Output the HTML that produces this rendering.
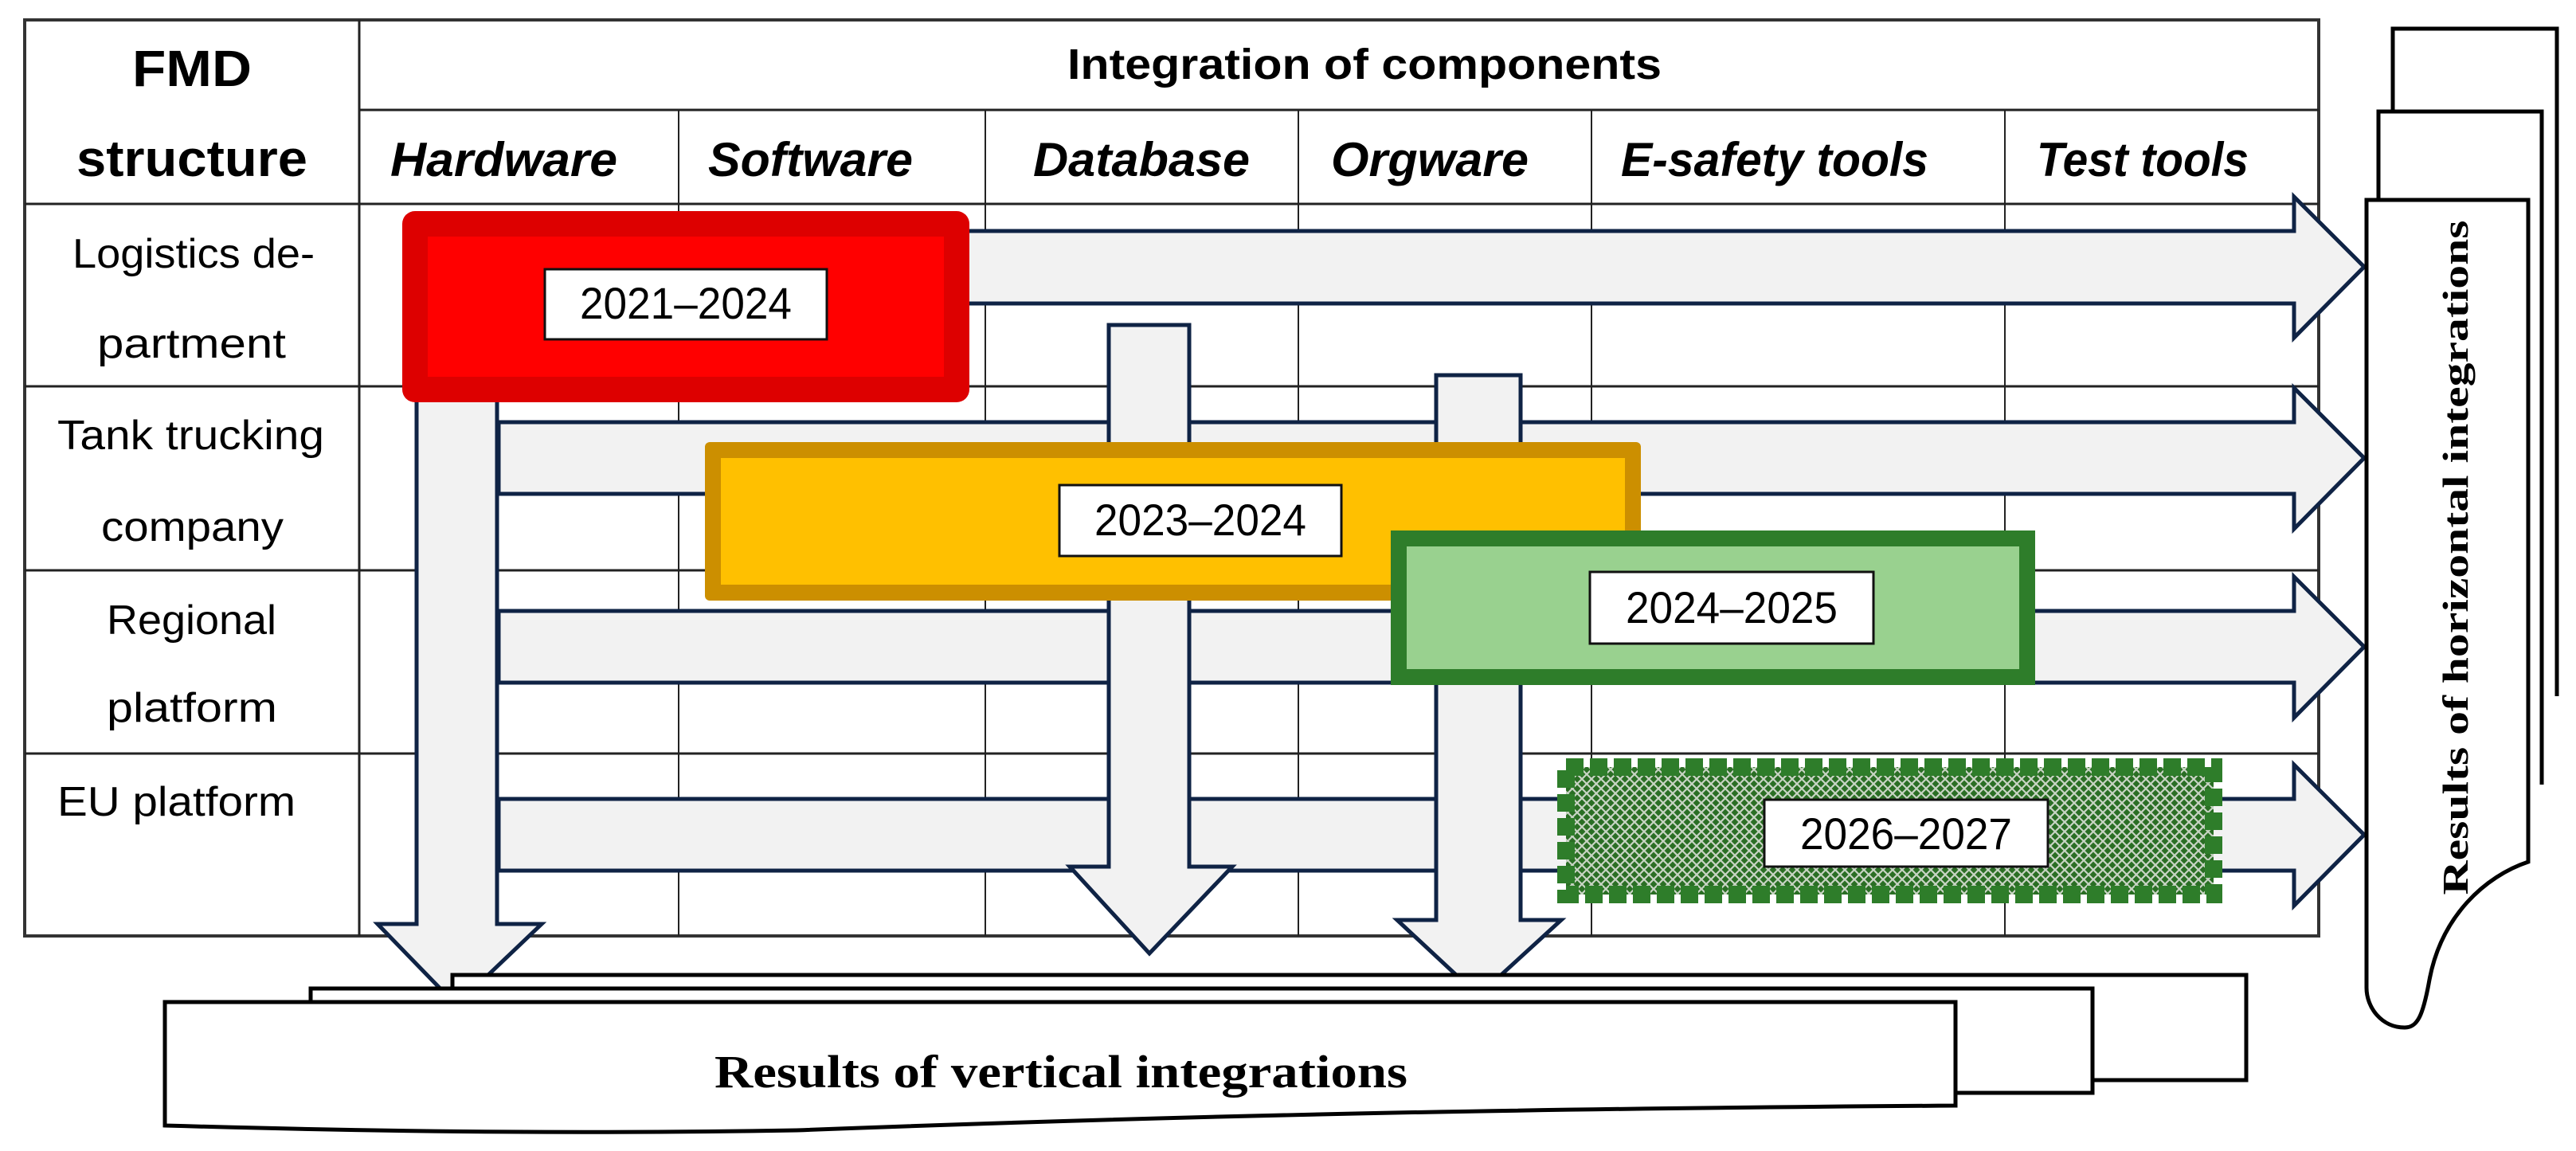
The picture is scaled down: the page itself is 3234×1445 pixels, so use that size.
<!DOCTYPE html>
<html><head><meta charset="utf-8"><style>
html,body{margin:0;padding:0;background:#fff;}
svg{display:block;}
.n{font-family:"Liberation Sans Narrow","Liberation Sans",sans-serif;}
.s{font-family:"Liberation Serif",serif;font-weight:bold;}
</style></head><body>
<svg width="3234" height="1445" viewBox="0 0 3234 1445" xmlns="http://www.w3.org/2000/svg">
<defs>
<pattern id="hatch" width="12" height="12" patternUnits="userSpaceOnUse">
<rect width="12" height="12" fill="#2a6e24"/>
<path d="M0,0 L12,12 M12,0 L0,12" stroke="#c8d4c4" stroke-width="2.2"/>
</pattern>
</defs>
<rect width="3234" height="1445" fill="#fff"/>
<!-- table grid -->
<g stroke="#222" stroke-width="3" fill="none">
<rect x="31" y="25" width="2880" height="1150" stroke="#333" stroke-width="4"/>
<line x1="451" y1="25" x2="451" y2="1175"/>
<line x1="451" y1="138" x2="2911" y2="138"/>
<line x1="31" y1="256" x2="2911" y2="256"/>
<line x1="31" y1="485" x2="2911" y2="485"/>
<line x1="31" y1="716" x2="2911" y2="716"/>
<line x1="31" y1="946" x2="2911" y2="946"/>
<g stroke-width="2">
<line x1="852" y1="138" x2="852" y2="1175"/>
<line x1="1237" y1="138" x2="1237" y2="1175"/>
<line x1="1630" y1="138" x2="1630" y2="1175"/>
<line x1="1998" y1="138" x2="1998" y2="1175"/>
<line x1="2517" y1="138" x2="2517" y2="1175"/>
</g>
</g>
<!-- header text -->
<g class="n" font-weight="bold" fill="#000">
<text x="241" y="108" font-size="64" text-anchor="middle" textLength="150" lengthAdjust="spacingAndGlyphs">FMD</text>
<text x="241" y="221" font-size="64" text-anchor="middle" textLength="290" lengthAdjust="spacingAndGlyphs">structure</text>
<text x="1713" y="99" font-size="54" text-anchor="middle" textLength="746" lengthAdjust="spacingAndGlyphs">Integration of components</text>
<g font-style="italic" font-size="60">
<text x="490" y="221" textLength="285" lengthAdjust="spacingAndGlyphs">Hardware</text>
<text x="889" y="221" textLength="257" lengthAdjust="spacingAndGlyphs">Software</text>
<text x="1297" y="221" textLength="272" lengthAdjust="spacingAndGlyphs">Database</text>
<text x="1671" y="221" textLength="248" lengthAdjust="spacingAndGlyphs">Orgware</text>
<text x="2035" y="221" textLength="386" lengthAdjust="spacingAndGlyphs">E-safety tools</text>
<text x="2557" y="221" textLength="266" lengthAdjust="spacingAndGlyphs">Test tools</text>
</g>
</g>
<g class="n" font-size="52" fill="#000">
<text x="91" y="336" textLength="304" lengthAdjust="spacingAndGlyphs">Logistics de-</text>
<text x="122" y="449" textLength="237" lengthAdjust="spacingAndGlyphs">partment</text>
<text x="72" y="564" textLength="335" lengthAdjust="spacingAndGlyphs">Tank trucking</text>
<text x="127" y="679" textLength="229" lengthAdjust="spacingAndGlyphs">company</text>
<text x="134" y="796" textLength="213" lengthAdjust="spacingAndGlyphs">Regional</text>
<text x="134" y="906" textLength="214" lengthAdjust="spacingAndGlyphs">platform</text>
<text x="72" y="1024" textLength="299" lengthAdjust="spacingAndGlyphs">EU platform</text>
</g>
<!-- horizontal arrows -->
<g fill="#f2f2f2" stroke="#0f2345" stroke-width="5" stroke-linejoin="miter">
<polygon points="1100,290 2880,290 2880,247 2968,335 2880,424 2880,381 1100,381"/>
<polygon points="626,530 2880,530 2880,487 2968,575 2880,664 2880,620 626,620"/>
<polygon points="626,767 2880,767 2880,724 2968,812 2880,901 2880,857 626,857"/>
<polygon points="626,1003 2880,1003 2880,960 2968,1048 2880,1137 2880,1093 626,1093"/>
<!-- vertical arrows -->
<polygon points="523,480 624,480 624,1160 680,1160 573,1262 474,1160 523,1160"/>
<polygon points="1392,408 1493,408 1493,1088 1547,1088 1443,1197 1343,1088 1392,1088"/>
<polygon points="1803,471 1909,471 1909,1155 1960,1155 1856,1250 1754,1155 1803,1155"/>
</g>
<!-- red box -->
<rect x="505" y="265" width="712" height="240" rx="16" fill="#dd0000"/>
<rect x="537" y="297" width="648" height="176" fill="#ff0000"/>
<rect x="684" y="338" width="354" height="88" fill="#fff" stroke="#111" stroke-width="3"/>
<text class="n" x="861" y="400" font-size="56" text-anchor="middle" textLength="266" lengthAdjust="spacingAndGlyphs">2021–2024</text>
<!-- yellow box -->
<rect x="885" y="555" width="1175" height="199" rx="6" fill="#cc8f00"/>
<rect x="905" y="575" width="1135" height="159" fill="#ffc000"/>
<rect x="1330" y="609" width="354" height="89" fill="#fff" stroke="#111" stroke-width="3"/>
<text class="n" x="1507" y="672" font-size="56" text-anchor="middle" textLength="266" lengthAdjust="spacingAndGlyphs">2023–2024</text>
<!-- green box -->
<rect x="1746" y="666" width="809" height="194" fill="#2e7d2a"/>
<rect x="1766" y="686" width="769" height="154" fill="#99d18f"/>
<rect x="1996" y="718" width="356" height="90" fill="#fff" stroke="#111" stroke-width="3"/>
<text class="n" x="2174" y="782" font-size="56" text-anchor="middle" textLength="266" lengthAdjust="spacingAndGlyphs">2024–2025</text>
<!-- dotted green box -->
<rect x="1966" y="963" width="813" height="160" fill="url(#hatch)"/>
<rect x="1966" y="963" width="813" height="160" fill="none" stroke="#2e7d2a" stroke-width="22" stroke-dasharray="22,8"/>
<rect x="2215" y="1004" width="356" height="84" fill="#fff" stroke="#111" stroke-width="3"/>
<text class="n" x="2393" y="1066" font-size="56" text-anchor="middle" textLength="266" lengthAdjust="spacingAndGlyphs">2026–2027</text>
<!-- right results stack -->
<g fill="#fff" stroke="#000" stroke-width="5">
<path d="M3004,874 V36 H3210 V874"/>
<path d="M2986,985 V140 H3191 V985"/>
<path d="M2971,251 H3174 V1082 C3120,1100 3065,1150 3050,1230 C3042,1275 3035,1290 3019,1290 C2990,1290 2971,1265 2971,1240 Z"/>
</g>
<text class="s" transform="translate(3098,700) rotate(-90)" font-size="46" text-anchor="middle" textLength="847" lengthAdjust="spacingAndGlyphs">Results of horizontal integrations</text>
<!-- bottom results stack -->
<g fill="#fff" stroke="#000" stroke-width="5">
<path d="M568,1241 V1224 H2820 V1356 H2627"/>
<path d="M390,1258 V1241 H2627 V1372 H2455"/>
<path d="M207,1258 H2455 V1388 C1900,1392 1500,1400 1000,1419 C700,1424 450,1420 207,1413 Z"/>
</g>
<text class="s" x="897" y="1365" font-size="58" textLength="870" lengthAdjust="spacingAndGlyphs">Results of vertical integrations</text>
</svg>
</body></html>
